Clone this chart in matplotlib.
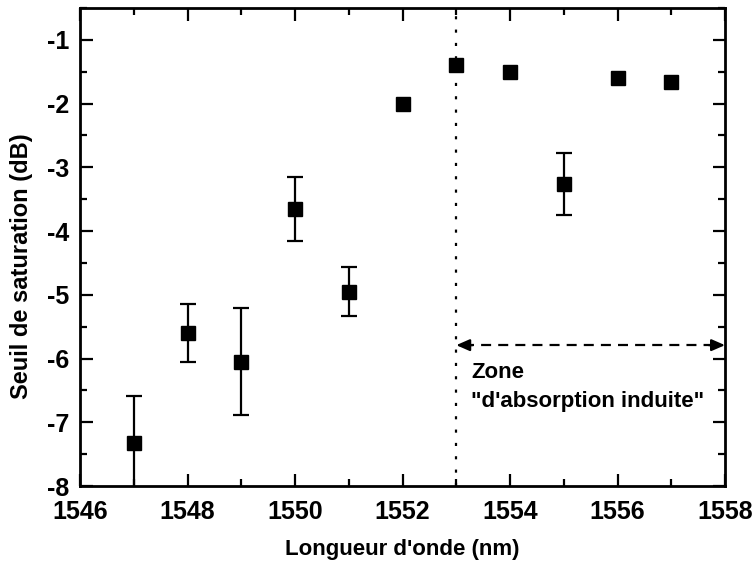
import matplotlib
matplotlib.use("Agg")
import matplotlib.pyplot as plt
from matplotlib.ticker import MultipleLocator

wavelength = [1547, 1548, 1549, 1550, 1551, 1552, 1553, 1554, 1555, 1556, 1557]
threshold = [-7.33, -5.60, -6.05, -3.65, -4.95, -2.01, -1.40, -1.51, -3.26, -1.60, -1.66]
error = [0.74, 0.46, 0.84, 0.50, 0.38, 0.0, 0.0, 0.0, 0.49, 0.0, 0.0]

zone_start = 1553
zone_end = 1558
arrow_y = -5.79

plt.rcParams['font.family'] = ['Liberation Sans', 'DejaVu Sans']
plt.rcParams['font.weight'] = 'bold'
plt.rcParams['axes.unicode_minus'] = False

fig = plt.figure(figsize=(7.52, 5.65), dpi=100)
ax = fig.add_axes([80/752, 1 - 486/565, 645/752, 478/565])

xs_e = [w for w, e in zip(wavelength, error) if e > 0]
ys_e = [t for t, e in zip(threshold, error) if e > 0]
es = [e for e in error if e > 0]
ax.errorbar(xs_e, ys_e, yerr=es, fmt='none', ecolor='black', elinewidth=1.6,
            capsize=6, capthick=1.6, zorder=2)
ax.plot(wavelength, threshold, linestyle='none', marker='s', markersize=10,
        color='black', zorder=3)

ax.axvline(zone_start, color='black', linewidth=1.6, linestyle=(0, (1.4, 4.6)), zorder=1)

ax.plot([zone_start + 0.15, zone_end - 0.15], [arrow_y, arrow_y], color='black',
        linewidth=1.6, linestyle=(0, (4.5, 3.2)), zorder=1)
for tip, tail in [(zone_start, zone_start + 0.3), (zone_end, zone_end - 0.3)]:
    ax.annotate('', xy=(tip, arrow_y), xytext=(tail, arrow_y),
                arrowprops=dict(arrowstyle='-|>,head_length=0.8,head_width=0.35',
                                color='black', lw=1.6, shrinkA=0, shrinkB=0),
                annotation_clip=False)

ax.text(1553.28, -6.22, 'Zone', fontsize=16, fontweight='bold', va='center', ha='left')
ax.text(1553.28, -6.67, '"d\'absorption induite"', fontsize=16, fontweight='bold',
        va='center', ha='left')

ax.set_xlim(1546, 1558)
ax.set_ylim(-8, -0.5)
ax.xaxis.set_major_locator(MultipleLocator(2))
ax.xaxis.set_minor_locator(MultipleLocator(1))
ax.yaxis.set_major_locator(MultipleLocator(1))
ax.yaxis.set_minor_locator(MultipleLocator(0.5))
ax.tick_params(which='both', direction='in', top=True, right=True, width=1.6)
ax.tick_params(which='major', length=9, labelsize=18)
ax.tick_params(axis='x', which='major', pad=10)
ax.tick_params(axis='y', which='major', pad=8)
ax.tick_params(which='minor', length=5)
for lab in ax.get_xticklabels() + ax.get_yticklabels():
    lab.set_fontweight('bold')
for s in ax.spines.values():
    s.set_linewidth(2)

ax.set_xlabel("Longueur d'onde (nm)", fontsize=16, fontweight='bold', labelpad=11)
ax.set_ylabel("Seuil de saturation (dB)", fontsize=17, fontweight='bold')
ax.yaxis.set_label_coords(-0.073, 0.46)

fig.savefig('out.png', dpi=100)
